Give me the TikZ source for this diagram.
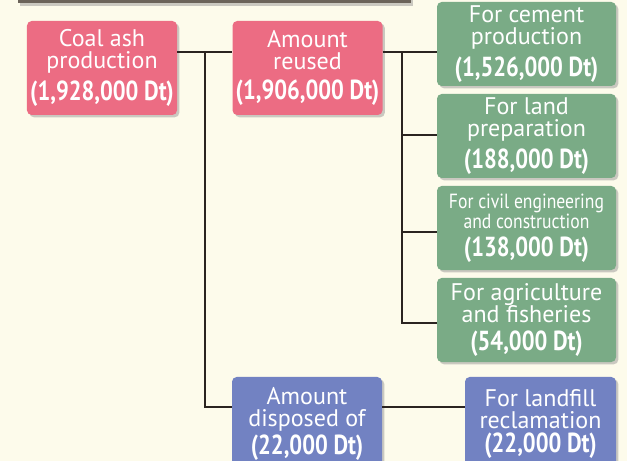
\documentclass[tikz,border=0pt]{standalone}
\usepackage{fontspec}
\setmainfont{PT Sans}
\newfontfamily\numfam{PT Sans}[FakeStretch=0.82]
\newfontfamily\narrowfam{PT Sans}[FakeStretch=0.86]
\definecolor{ashcream}{RGB}{253,251,235}
\definecolor{ashpink}{RGB}{236,108,131}
\definecolor{ashgreen}{RGB}{122,171,134}
\definecolor{ashblue}{RGB}{114,130,194}
\definecolor{ashbar}{RGB}{107,99,90}
\definecolor{ashline}{RGB}{43,36,32}
\usetikzlibrary{positioning,shadows}
\newcommand{\wordfont}{\fontsize{20.5}{19}\selectfont}
\newcommand{\smallfont}{\narrowfam\fontsize{17.5}{17}\selectfont}
\newcommand{\numfont}{\numfam\fontsize{23.5}{22}\selectfont\bfseries}

\begin{document}
\begin{tikzpicture}[x=0.03cm, y=-0.03cm,
    flowbox/.style={rectangle, rounded corners=4pt, text=white, align=center,
                    inner sep=0pt, font=\wordfont,
                    drop shadow={shadow xshift=2pt, shadow yshift=-2pt,
                                 fill=black!45, opacity=0.45}},
    mainbox/.style={flowbox, minimum width=4.5cm, minimum height=2.82cm},
    usebox/.style={flowbox, fill=ashgreen, minimum width=5.37cm, minimum height=2.52cm},
    link/.style={draw=ashline, line width=1.5pt}
  ]
    % Background and title bar
    \fill[ashcream] (0,0) rectangle (627,461);
    \useasboundingbox (0,0) rectangle (627,461);
    \node[rectangle, fill=ashbar, minimum width=11.79cm, minimum height=0.6cm,
          inner sep=0pt, drop shadow={shadow xshift=2pt, shadow yshift=-2pt,
          fill=black!45, opacity=0.45}] (title) at (214.5,-6.5) {};

    % Production and reuse
    \node[mainbox, fill=ashpink] (coal) at (102,68)
      {Coal ash\\production\\[6pt]{\numfont (1,928,000 Dt)}};
    \node[mainbox, fill=ashpink] (reused) at (307.5,68)
      {Amount\\reused\\[6pt]{\numfont (1,906,000 Dt)}};

    % Uses
    \node[usebox] (cement) at (526.5,44)
      {For cement\\production\\[5pt]{\numfont (1,526,000 Dt)}};
    \node[usebox] (land) at (526.5,136)
      {For land\\preparation\\[5pt]{\numfont (188,000 Dt)}};
    \node[usebox, font=\smallfont] (civil) at (526.5,228)
      {For civil engineering\\and construction\\[7pt]{\numfont (138,000 Dt)}};
    \node[usebox] (agri) at (526.5,320)
      {For agriculture\\and fisheries\\[5pt]{\numfont (54,000 Dt)}};

    % Disposal
    \node[mainbox, fill=ashblue] (disposed) at (307,424)
      {Amount\\disposed of\\[2pt]{\numfont (22,000 Dt)}};
    \node[mainbox, fill=ashblue, minimum width=4.53cm] (landfill) at (540.5,424)
      {For landfill\\reclamation\\[2pt]{\numfont (22,000 Dt)}};

    % Junctions
    \coordinate (split) at (205,52);
    \coordinate (low) at (205,407);
    \coordinate (branch) at (402,52);

    % Connectors
    \draw[link] (coal.east |- split) -- (reused.west |- split);
    \draw[link] (split) -- (low) -- (disposed.west |- low);
    \draw[link] (disposed.east |- low) -- (landfill.west |- low);
    \draw[link] (reused.east |- branch) -- (cement.west |- branch);
    \draw[link] (branch) -- (branch |- 0,323) -- (agri.west |- 0,323);
    \draw[link] (branch |- 0,135) -- (land.west |- 0,135);
    \draw[link] (branch |- 0,232) -- (civil.west |- 0,232);
  \end{tikzpicture}
\end{document}
